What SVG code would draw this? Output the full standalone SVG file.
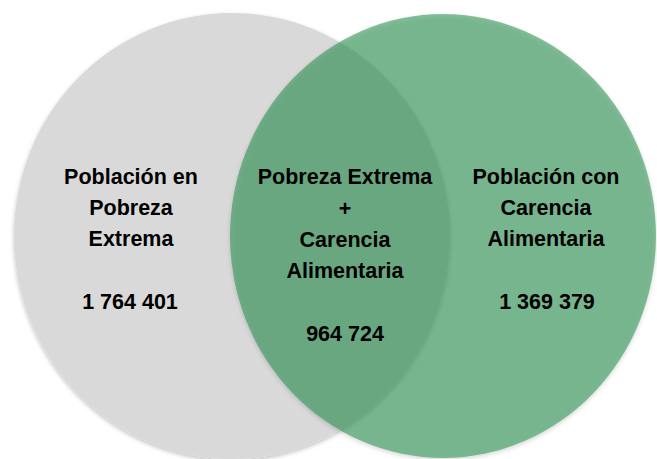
<svg xmlns="http://www.w3.org/2000/svg" width="657" height="459" viewBox="0 0 657 459">
  <defs>
    <filter id="sh" x="-10%" y="-10%" width="120%" height="120%">
      <feDropShadow dx="0" dy="2" stdDeviation="2" flood-color="#000" flood-opacity="0.25"/>
    </filter>
    <style>
      text { font-family: "Liberation Sans", Arial, sans-serif; font-weight: bold; font-size: 21.5px; fill: #000; text-anchor: middle; }
    </style>
  </defs>
  <rect width="657" height="459" fill="#ffffff"/>
  <g id="set-pobreza">
    <ellipse cx="232" cy="236" rx="218" ry="223" fill="#d9d9d9" filter="url(#sh)"/>
  </g>
  <g id="set-carencia">
    <ellipse cx="443" cy="236" rx="213" ry="222" fill="#2d9254" fill-opacity="0.58" filter="url(#sh)"/>
  </g>
  <g id="label-pobreza">
    <text x="131" y="184">Población en</text>
    <text x="131" y="215">Pobreza</text>
    <text x="131" y="246">Extrema</text>
    <text x="130" y="309">1 764 401</text>
  </g>
  <g id="label-interseccion">
    <text x="345" y="184">Pobreza Extrema</text>
    <text x="345" y="216">+</text>
    <text x="345" y="247">Carencia</text>
    <text x="345" y="278">Alimentaria</text>
    <text x="345" y="341">964 724</text>
  </g>
  <g id="label-carencia">
    <text x="546" y="184">Población con</text>
    <text x="546" y="215">Carencia</text>
    <text x="546" y="246">Alimentaria</text>
    <text x="547" y="309">1 369 379</text>
  </g>
  <g id="connectors"/>
</svg>
